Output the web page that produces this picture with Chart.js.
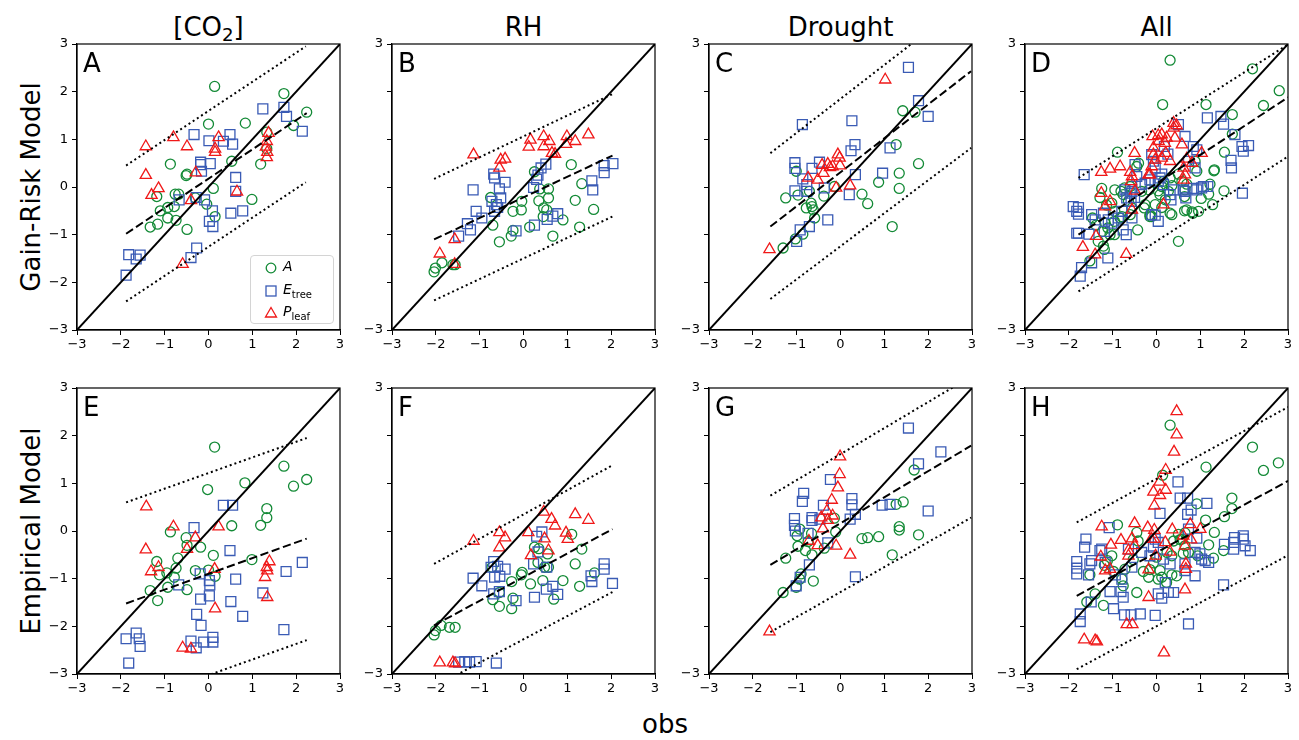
<!DOCTYPE html>
<html>
<head>
<meta charset="utf-8">
<script src="https://cdn.jsdelivr.net/npm/chart.js@4.4.1/dist/chart.umd.min.js"></script>
<style>
  body { margin: 0; background: #fff; width: 1299px; height: 740px; position: relative; overflow: hidden; font-family: 'DejaVu Sans', sans-serif; }
  canvas { position: absolute; }
  .lbl { position: absolute; color: #000; white-space: nowrap; font-size: 26px; line-height: 26px; }
  .sub { font-size: 70%; position: relative; top: 0.28em; }
  #legend { position: absolute; left: 250px; top: 255px; width: 82px; height: 67px; border: 1px solid #d4d4d4; border-radius: 4px; background: rgba(255,255,255,0.85); z-index: 5; font-size: 14px; }
  #legend .row { position: absolute; left: 0; height: 20px; }
  #legend svg { position: absolute; left: 12px; top: 3px; }
  #legend .txt { position: absolute; left: 32px; top: 1px; font-style: italic; line-height: 16px; }
  #legend .txt span { font-style: normal; font-size: 10px; position: relative; top: 4px; }
</style>
</head>
<body>
<div id="legend">
  <div class="row" style="top:1px"><svg width="16" height="16"><circle cx="8" cy="8" r="4.8" fill="none" stroke="#138a36" stroke-width="1.3"/></svg><div class="txt">A</div></div>
  <div class="row" style="top:24px"><svg width="16" height="16"><rect x="3" y="3" width="10" height="10" fill="none" stroke="#3a5bb5" stroke-width="1.3"/></svg><div class="txt">E<span>tree</span></div></div>
  <div class="row" style="top:46px"><svg width="16" height="16"><polygon points="8,2.5 13.5,12 2.5,12" fill="none" stroke="#f01818" stroke-width="1.3"/></svg><div class="txt">P<span>leaf</span></div></div>
</div>
<script>
// column / row titles and panel letters
const colTitles = ['[CO<span class="sub">2</span>]', 'RH', 'Drought', 'All'];
const rowTitles = ['Gain-Risk Model', 'Empirical Model'];
const letters = ['A', 'B', 'C', 'D', 'E', 'F', 'G', 'H'];
const tickValues = [-3, -2, -1, 0, 1, 2, 3];

// A: [CO2], gain-risk
const A_circ = [[0.14,2.11],[1.72,1.96],[2.24,1.57],[1.94,1.29],[1.33,1.15],[1.33,0.80],[0.84,1.34],[0.0,1.32],[0.53,0.54],[1.19,0.48],[-0.87,0.48],[-0.49,0.27],[-0.51,0.24],[-1.18,-0.20],[-0.76,-0.15],[-0.68,-0.15],[0.11,-0.03],[0.99,-0.26],[-1.10,-0.50],[-0.93,-0.43],[-0.78,-0.41],[-0.04,-0.36],[0.15,-0.62],[-0.93,-0.65],[-0.74,-0.70],[-1.33,-0.84],[-1.16,-0.78],[-0.49,-0.89],[-0.30,-0.23]];
const A_sq = [[1.24,1.64],[1.72,1.67],[1.78,1.48],[2.14,1.17],[-0.33,1.10],[0.01,0.97],[0.34,0.96],[0.49,1.10],[0.55,0.90],[-0.18,0.52],[-0.18,0.47],[0.04,0.49],[-0.16,0.33],[0.62,0.20],[0.62,-0.09],[-0.67,-0.27],[-0.28,-0.22],[-0.09,-0.27],[0.09,-0.50],[0.51,-0.55],[0.78,-0.50],[0.02,-0.72],[0.10,-0.83],[-0.27,-1.28],[-0.40,-1.48],[-1.82,-1.42],[-1.65,-1.51],[-1.56,-1.43],[-1.88,-1.85]];
const A_tri = [[-1.43,0.85],[-0.80,1.04],[-0.49,0.85],[0.23,1.04],[0.15,0.80],[0.15,0.73],[-1.43,0.25],[-0.29,0.30],[-1.14,-0.03],[-1.30,-0.17],[-0.40,-0.28],[0.65,-0.10],[1.37,1.13],[1.33,0.96],[1.31,0.84],[1.34,0.73],[1.33,0.62],[-0.59,-1.62]];
const A_fit = [[-1.88,-0.98],[2.24,1.55]];
const A_hi = [[-1.88,0.45],[2.22,2.95]];
const A_lo = [[-1.88,-2.40],[2.22,0.10]];

// B: RH, gain-risk
const B_circ = [[-2.04,-1.78],[-2.01,-1.70],[-1.86,-1.59],[-1.61,-1.63],[-1.56,-1.63],[-0.55,-1.15],[-0.70,-0.80],[-0.28,-1.03],[-0.24,-0.91],[-0.75,-0.22],[-0.24,-0.51],[-0.05,-0.48],[-0.04,-0.30],[0.14,-0.84],[0.35,-0.29],[0.25,0.32],[0.37,-0.04],[0.57,-0.04],[0.57,-0.23],[0.46,-0.44],[0.53,-0.48],[0.45,-0.62],[0.67,-1.03],[0.90,-0.69],[1.09,0.47],[1.33,0.07],[1.18,-0.28],[1.28,-0.84],[1.60,-0.47]];
const B_sq = [[-1.15,-0.06],[-0.68,0.27],[-0.66,0.19],[-0.42,0.10],[-0.55,-0.04],[-0.52,-0.23],[-0.72,-0.30],[-0.62,-0.37],[-0.59,-0.43],[-0.66,-0.51],[-1.08,-0.51],[-0.95,-0.65],[-1.28,-0.77],[-1.21,-0.90],[-1.48,-1.03],[-0.17,-0.92],[0.25,-0.80],[0.33,0.25],[0.30,0.16],[0.23,-0.01],[0.40,0.40],[0.51,0.48],[0.54,-0.68],[0.67,-0.61],[0.78,-0.56],[1.56,0.13],[1.58,-0.06],[1.84,0.45],[1.84,0.30],[2.04,0.49]];
const B_tri = [[-1.91,-1.40],[-1.57,-1.10],[-1.57,-1.62],[-1.14,0.68],[-0.55,0.40],[-0.52,0.57],[-0.42,0.59],[0.16,0.99],[0.12,0.84],[0.46,1.06],[0.46,0.85],[0.59,0.96],[0.65,0.71],[0.72,0.69],[0.99,1.06],[0.97,0.90],[1.18,0.96],[1.48,1.10]];
const B_fit = [[-2.04,-1.10],[2.03,0.66]];
const B_hi = [[-2.04,0.17],[2.03,1.95]];
const B_lo = [[-2.04,-2.38],[2.03,-0.62]];

// C: drought, gain-risk
const C_circ = [[1.42,1.60],[1.70,1.57],[1.27,0.89],[1.78,0.49],[0.87,0.10],[1.34,0.29],[1.34,-0.03],[1.18,-0.83],[0.49,-0.15],[0.62,-0.35],[-0.14,0.01],[-1.01,0.33],[-1.25,-0.23],[-0.97,-0.17],[-0.67,-0.34],[-0.65,-0.41],[-0.78,-0.44],[-0.62,-0.48],[-0.59,-0.65],[-0.38,-0.19],[-0.86,-0.99],[-1.03,-1.09],[-1.31,-1.28],[-0.71,-0.09]];
const C_sq = [[1.55,2.51],[1.78,1.81],[2.00,1.48],[-0.87,1.31],[0.26,1.39],[0.33,0.89],[0.24,0.76],[1.13,0.82],[0.96,0.29],[0.34,0.26],[0.20,-0.16],[-1.04,0.51],[-1.04,0.39],[-0.48,0.52],[-0.65,0.39],[-0.86,0.17],[-0.77,0.05],[-0.77,-0.09],[-1.04,-0.08],[-0.37,-0.02],[-0.29,-0.69],[-0.71,-0.83],[-0.92,-0.90],[-1.00,-1.14]];
const C_tri = [[1.02,2.25],[-1.62,-1.31],[-0.74,0.19],[-0.52,0.15],[-0.42,0.46],[-0.39,0.29],[-0.29,0.48],[-0.24,0.41],[-0.18,0.43],[-0.06,0.68],[-0.02,0.61],[-0.01,0.45],[-0.10,-0.02],[0.22,0.03]];
const C_fit = [[-1.60,-0.83],[2.98,2.43]];
const C_hi = [[-1.60,0.71],[2.98,3.97]];
const C_lo = [[-1.60,-2.35],[2.98,0.82]];

// D: all, gain-risk
const D_circ = [[0.31,2.66],[2.19,2.48],[2.80,2.02],[2.44,1.71],[0.14,1.73],[1.13,1.73],[1.73,1.52],[1.73,1.11],[1.55,0.73],[-0.89,0.73],[1.32,0.36],[1.54,-0.08],[1.28,-0.37],[1.02,-0.24],[1.19,-0.15],[0.81,-0.52],[0.64,-0.50],[0.50,-1.14],[0.31,-0.55],[0.12,-0.43],[-0.11,-0.62],[-0.15,-0.62],[-0.43,-0.90],[-0.56,-0.44],[-0.73,-0.02],[-0.60,0.01],[-0.41,0.50],[-0.45,0.43],[-1.25,-0.03],[-1.29,-0.22],[-1.14,-0.38],[-0.95,-0.51],[-0.79,-0.62],[-0.96,-0.72],[-1.11,-0.86],[-0.96,-1.00],[-1.23,-0.93],[-1.33,-1.14],[-1.19,-1.31],[-1.52,-1.55],[-1.46,-0.65],[-1.38,-0.80],[0.04,-0.08],[0.12,0.01],[0.27,-0.09],[0.35,0.03],[0.50,0.27],[0.58,0.12],[0.69,0.06],[0.64,-0.20],[0.88,0.54],[0.92,0.33],[1.22,0.06],[-0.28,-0.44],[-0.03,-0.37],[-0.17,-0.06],[-0.95,-0.06],[-0.81,-0.09],[-1.02,-0.34],[-0.64,-0.30],[-0.34,-0.09],[-0.76,-0.16],[-0.26,-0.37],[0.31,0.19],[0.65,-0.06],[1.31,0.34],[0.69,-0.48],[0.83,-0.55],[-0.60,-0.58],[-0.83,-0.65],[-1.17,-0.76],[-1.06,-1.00],[-1.21,-1.24],[0.08,-0.16],[0.20,-0.27],[0.16,0.12],[-0.15,-0.58],[0.35,-0.58],[0.96,-0.51]];
const D_sq = [[-1.65,0.26],[1.16,1.45],[1.47,1.48],[1.53,1.32],[1.79,1.10],[1.98,0.75],[2.10,0.87],[1.95,0.85],[1.70,0.56],[1.71,0.40],[1.96,-0.13],[0.50,1.31],[0.65,1.06],[0.84,0.85],[0.92,0.78],[0.88,0.40],[1.03,-0.02],[0.92,-0.06],[0.84,-0.03],[1.17,0.01],[0.65,-0.09],[0.67,-0.23],[0.31,-0.16],[0.33,-0.27],[0.18,0.85],[0.26,0.69],[0.16,0.05],[0.04,0.12],[-0.11,0.68],[-0.07,0.54],[0.12,0.27],[0.73,0.54],[-0.34,0.05],[-0.26,0.08],[-0.15,0.15],[-0.49,0.47],[-0.56,-0.09],[-0.50,-0.22],[-0.68,-0.23],[-0.58,-0.30],[-0.79,-0.51],[-0.56,-0.65],[-0.69,-1.00],[-1.11,-1.49],[-1.48,-1.59],[-1.71,-1.69],[-1.74,-1.87],[-1.78,-0.43],[-1.78,-0.57],[-1.78,-0.97],[-1.54,-0.99],[-1.48,-0.58],[-1.40,-0.69],[-1.21,-0.55],[-1.10,-0.69],[-1.02,-0.76],[-0.87,-0.65],[-0.03,-0.59],[0.04,-0.72],[-0.11,-0.58],[-1.19,-0.93],[-1.90,-0.41],[-1.82,-0.51],[-1.82,-0.97],[-0.72,-0.06],[-0.60,-0.13],[-0.45,0.22],[-0.03,0.40],[0.08,0.19],[0.39,-0.06],[0.61,-0.06],[1.07,0.01],[-0.76,-0.90]];
const D_tri = [[0.39,1.34],[0.46,1.29],[-0.09,1.06],[0.04,1.08],[0.12,1.10],[0.23,1.03],[0.05,0.96],[0.19,0.92],[0.42,1.03],[0.58,0.89],[-0.50,0.71],[-0.07,0.68],[-0.03,0.57],[0.12,0.61],[0.21,0.71],[0.31,0.54],[-0.11,0.43],[-0.15,0.26],[1.03,0.71],[0.81,0.50],[0.69,0.59],[0.62,0.40],[0.65,0.26],[0.62,0.15],[-1.26,0.31],[-1.06,0.38],[-0.83,0.43],[-0.60,0.31],[-0.56,0.22],[-0.58,0.12],[-0.49,-0.08],[-1.26,-0.13],[-1.17,-0.41],[-1.06,-0.30],[-0.56,-0.48],[0.16,-0.37],[-1.38,-1.03],[-1.68,-1.26],[-1.40,-1.42],[-0.69,-1.41],[0.39,1.24],[-0.07,0.82],[-0.18,0.26]];
const D_fit = [[-1.78,-1.00],[3.0,1.88]];
const D_hi = [[-1.78,0.19],[3.0,2.99]];
const D_lo = [[-1.78,-2.19],[3.0,0.64]];

// E: [CO2], empirical
const E_circ = [[0.14,1.76],[1.72,1.36],[2.24,1.08],[1.94,0.94],[0.83,1.01],[-0.02,0.87],[1.33,0.47],[1.33,0.28],[1.19,0.12],[0.53,0.11],[-0.87,-0.02],[-0.51,-0.14],[-0.49,-0.30],[-0.18,-0.34],[0.11,-0.51],[-0.70,-0.57],[0.99,-0.60],[-1.18,-0.64],[-1.12,-0.92],[-0.95,-0.88],[-0.74,-0.78],[-0.30,-0.83],[0.0,-0.82],[0.15,-0.95],[-0.78,-0.97],[-0.93,-1.18],[-0.49,-1.23],[-1.33,-1.25],[-1.16,-1.46]];
const E_sq = [[0.34,0.54],[0.55,0.54],[-0.33,0.07],[0.49,-0.41],[0.02,-1.04],[0.03,-1.13],[-0.19,-0.90],[-0.68,-1.13],[0.62,-1.01],[1.24,-1.30],[1.77,-0.85],[2.14,-0.66],[-0.18,-1.43],[0.02,-1.36],[0.51,-1.48],[-0.27,-1.75],[0.78,-1.79],[-0.17,-1.98],[1.72,-2.07],[0.10,-2.23],[0.10,-2.33],[-0.11,-2.33],[-0.40,-2.31],[-0.28,-2.45],[-1.88,-2.26],[-1.65,-2.14],[-1.58,-2.26],[-1.56,-2.42],[-1.82,-2.77]];
const E_tri = [[-1.42,0.51],[-0.80,0.09],[0.23,0.09],[-0.30,-0.14],[-0.49,-0.38],[-1.43,-0.39],[-1.14,-0.76],[-1.31,-0.85],[0.14,-0.80],[1.39,-0.64],[1.33,-0.76],[1.34,-0.83],[1.29,-0.97],[1.34,-1.39],[0.15,-1.63],[-0.59,-2.45],[-0.40,-2.47]];
const E_fit = [[-1.88,-1.52],[2.24,-0.16]];
const E_hi = [[-1.88,0.60],[2.24,1.95]];
const E_lo = [[-1.88,-3.64],[2.24,-2.29]];

// F: RH, empirical
const F_circ = [[-2.04,-2.18],[-2.01,-2.09],[-1.88,-1.98],[-1.69,-2.02],[-1.56,-2.02],[-0.55,-1.58],[-0.27,-1.63],[-0.70,-1.44],[-0.24,-1.41],[-0.55,-1.29],[-0.27,-1.06],[-0.05,-0.92],[-0.03,-0.87],[0.16,-1.11],[0.44,-1.04],[0.69,-1.43],[0.90,-1.04],[1.28,-1.16],[1.18,-0.69],[1.62,-0.88],[1.33,-0.38],[1.10,-0.07],[0.25,-0.34],[0.35,-0.37],[0.33,-0.66],[0.55,-0.48],[0.48,-0.76],[0.57,-0.76],[-0.72,-0.76]];
const F_sq = [[0.42,-0.02],[0.30,-0.11],[0.33,-0.44],[0.23,-0.69],[0.53,-0.76],[-0.68,-0.64],[-0.59,-0.74],[-0.74,-0.76],[-0.42,-0.80],[-0.66,-0.97],[-0.54,-0.95],[-1.15,-0.99],[-0.95,-1.15],[-0.68,-1.32],[-0.55,-1.27],[-0.17,-1.46],[0.25,-1.39],[0.52,-1.22],[0.67,-1.16],[0.78,-1.33],[1.54,-0.94],[1.56,-1.06],[1.84,-0.69],[1.84,-0.80],[2.03,-1.10],[-1.48,-2.75],[-1.34,-2.74],[-1.23,-2.75],[-1.08,-2.74],[-0.62,-2.77]];
const F_tri = [[-1.91,-2.76],[-1.61,-2.76],[-1.56,-2.78],[-1.14,-0.21],[-0.55,-0.03],[-0.42,-0.14],[-0.55,-0.35],[0.11,-0.03],[0.17,-0.51],[0.46,0.40],[0.64,0.25],[0.72,0.11],[0.48,-0.16],[0.57,-0.41],[0.97,-0.04],[1.01,-0.17],[1.18,0.35],[1.48,0.23]];
const F_fit = [[-2.04,-1.98],[2.03,0.04]];
const F_hi = [[-2.04,-0.69],[2.03,1.38]];
const F_lo = [[-2.04,-3.27],[2.03,-1.28]];

// G: drought, empirical
const G_circ = [[1.68,1.28],[1.43,0.61],[1.27,0.56],[1.34,0.09],[1.34,0.02],[1.78,-0.08],[0.87,-0.12],[0.62,-0.14],[0.49,-0.16],[1.18,-0.50],[-0.14,0.27],[-0.11,-0.02],[-0.93,0.04],[-0.99,-0.10],[-0.66,-0.05],[-0.74,-0.22],[-0.97,-0.32],[-0.80,-0.41],[-0.65,-0.50],[-0.37,-0.36],[-1.25,-0.57],[-0.90,-0.90],[-0.93,-1.01],[-0.62,-1.05],[-1.31,-1.29],[-1.01,-1.18]];
const G_sq = [[1.55,2.16],[2.29,1.66],[1.78,1.41],[-0.23,1.08],[-0.84,0.79],[-0.87,0.62],[-0.39,0.54],[0.26,0.68],[0.26,0.55],[0.95,0.54],[1.13,0.56],[2.00,0.42],[0.34,0.35],[0.22,0.25],[-1.05,0.26],[-1.05,0.12],[-1.03,0.00],[-0.65,0.28],[-0.65,0.22],[-0.47,0.25],[-0.74,-0.05],[-0.29,-0.25],[-0.71,-0.71],[-0.92,-0.97],[-1.01,-1.15],[0.34,-0.96]];
const G_tri = [[-0.01,1.56],[-0.02,1.19],[-0.06,0.91],[-0.20,0.65],[-0.31,0.42],[-0.29,0.23],[-0.44,0.28],[-0.40,0.05],[-0.18,0.32],[-0.72,-0.21],[-0.52,-0.30],[-0.10,-0.31],[0.22,-0.50],[-1.62,-2.11]];
const G_fit = [[-1.60,-0.71],[2.98,1.79]];
const G_hi = [[-1.60,0.74],[2.98,3.24]];
const G_lo = [[-1.60,-2.12],[2.98,0.28]];

// H: all, empirical
const H_circ = [[0.31,2.22],[2.19,1.76],[2.78,1.43],[2.44,1.27],[1.13,1.34],[0.14,1.17],[1.72,0.69],[1.72,0.47],[0.92,0.57],[1.55,0.30],[1.12,0.23],[1.32,-0.03],[1.19,-0.29],[1.30,-0.57],[1.53,-0.41],[0.94,-0.52],[-0.89,0.13],[-0.45,-0.03],[-0.42,-0.21],[-1.02,-0.52],[-1.52,-0.92],[-1.40,-1.32],[-1.59,-1.49],[-1.21,-1.56],[-1.19,-0.72],[-0.98,-0.85],[-0.79,-1.01],[-0.72,-0.80],[-0.45,-1.29],[-0.30,-0.85],[-0.18,-0.97],[0.08,-0.83],[0.12,-0.97],[0.35,-0.92],[0.50,-0.07],[0.58,-0.17],[0.65,-0.31],[0.73,-0.45],[0.35,-0.52],[0.24,-0.45],[0.0,-0.55],[-0.76,-1.15],[-0.15,-0.81],[0.04,-1.01],[0.23,-1.08],[0.46,-0.94],[0.61,-0.47],[0.39,-0.21],[0.54,-0.18],[0.65,-0.04],[-0.07,-0.67],[-0.53,-0.60],[-1.12,-0.62]];
const H_sq = [[0.49,1.03],[0.54,0.69],[0.71,0.69],[1.15,0.58],[0.79,0.44],[0.71,0.35],[0.08,0.37],[-1.08,0.07],[-1.61,-0.17],[-1.64,-0.34],[-1.82,-0.64],[-1.82,-0.78],[-1.82,-0.90],[-1.48,-0.62],[-1.52,-0.69],[-1.25,-0.38],[-1.55,-0.92],[-0.94,-0.92],[-0.79,-1.01],[-1.06,-1.27],[-0.81,-1.27],[-0.76,-1.39],[-1.49,-1.49],[-1.74,-1.74],[-1.74,-1.90],[-0.98,-1.63],[-0.73,-1.76],[-0.58,-1.76],[-0.37,-1.74],[-0.03,-1.77],[0.20,-1.08],[0.04,-1.32],[0.12,-1.41],[0.27,-1.29],[0.39,-1.29],[0.73,-1.95],[0.88,-0.94],[0.65,-0.69],[0.65,-0.83],[0.92,-0.15],[0.73,0.04],[-0.03,-0.17],[0.04,-0.24],[-0.07,-0.34],[-0.15,-0.52],[0.16,-0.59],[0.31,-0.69],[-0.34,-0.45],[-0.64,-0.38],[-0.56,-0.76],[1.53,-1.13],[1.78,-0.14],[1.76,-0.24],[1.76,-0.38],[1.55,-0.28],[1.98,-0.10],[1.98,-0.17],[2.02,-0.31],[2.14,-0.41],[1.03,-0.59],[1.11,-0.62],[1.19,-0.66],[0.88,-0.45],[0.99,-0.48],[-1.29,-0.41],[-1.17,-0.66]];
const H_tri = [[0.46,2.51],[0.46,2.02],[0.40,1.66],[0.21,1.28],[0.07,1.03],[-0.07,0.82],[0.08,0.75],[0.21,0.86],[-0.05,0.53],[-1.25,0.09],[-0.50,0.16],[-0.20,0.07],[-0.05,0.02],[-0.81,-0.19],[-1.04,-0.29],[-0.56,-0.16],[-0.50,-0.30],[-0.64,-0.41],[-0.64,-0.52],[-0.12,-0.17],[-0.05,-0.17],[0.20,-0.24],[0.31,-0.44],[0.36,0.03],[0.61,-0.10],[0.65,-0.31],[0.77,0.14],[0.79,-0.18],[1.00,0.04],[-0.02,-0.52],[-1.27,-0.54],[-1.17,-0.83],[-1.06,-0.80],[-0.18,-0.81],[0.67,-0.69],[0.67,-0.80],[0.65,-1.23],[-0.18,-1.39],[-0.68,-1.96],[-0.55,-1.96],[-1.65,-2.28],[-1.40,-2.30],[-1.36,-2.32],[0.17,-2.55]];
const H_fit = [[-1.82,-1.36],[3.0,1.05]];
const H_hi = [[-1.82,0.18],[3.0,2.60]];
const H_lo = [[-1.82,-2.90],[3.0,-0.51]];

const oneToOne = [[-3,-3],[3,3]];

const panels = [
  [A_circ, A_sq, A_tri, A_fit, A_hi, A_lo],
  [B_circ, B_sq, B_tri, B_fit, B_hi, B_lo],
  [C_circ, C_sq, C_tri, C_fit, C_hi, C_lo],
  [D_circ, D_sq, D_tri, D_fit, D_hi, D_lo],
  [E_circ, E_sq, E_tri, E_fit, E_hi, E_lo],
  [F_circ, F_sq, F_tri, F_fit, F_hi, F_lo],
  [G_circ, G_sq, G_tri, G_fit, G_hi, G_lo],
  [H_circ, H_sq, H_tri, H_fit, H_hi, H_lo]
];

// layout of the grid (pixels)
const colLeft = [77, 392, 709, 1025];
const rowTop = [44, 388];
const plotW = 263, plotH = 286;
const padL = 50, padT = 12, padR = 12, padB = 30;

const green = '#138a36', blue = '#3a5bb5', red = '#f01818';
const pts = arr => arr.map(p => ({ x: p[0], y: p[1] }));
const minus = v => v < 0 ? '\u2212' + Math.abs(v) : String(v);

// titles as html text
colTitles.forEach((t, i) => {
  const d = document.createElement('div');
  d.className = 'lbl';
  d.innerHTML = t;
  d.style.left = (colLeft[i] + plotW / 2) + 'px';
  d.style.top = '14px';
  d.style.transform = 'translateX(-50%)';
  document.body.appendChild(d);
});
rowTitles.forEach((t, i) => {
  const d = document.createElement('div');
  d.className = 'lbl';
  d.textContent = t;
  d.style.left = '31px';
  d.style.top = (rowTop[i] + plotH / 2) + 'px';
  d.style.transform = 'translate(-50%,-50%) rotate(-90deg)';
  document.body.appendChild(d);
});
const xl = document.createElement('div');
xl.className = 'lbl';
xl.textContent = 'obs';
xl.style.left = '665px';
xl.style.top = '711px';
xl.style.transform = 'translateX(-50%)';
document.body.appendChild(xl);

// panel letter + box frame
const framePlugin = {
  id: 'frame',
  afterDraw(chart, args, opts) {
    const a = chart.chartArea, ctx = chart.ctx;
    ctx.save();
    ctx.strokeStyle = '#000';
    ctx.lineWidth = 1.2;
    ctx.strokeRect(a.left, a.top, a.right - a.left, a.bottom - a.top);
    ctx.fillStyle = '#000';
    ctx.font = '26px "DejaVu Sans"';
    ctx.textBaseline = 'alphabetic';
    ctx.fillText(opts.letter, a.left + 6, a.top + 28);
    ctx.restore();
  }
};

panels.forEach((p, k) => {
  const col = k % 4, row = Math.floor(k / 4);
  const cv = document.createElement('canvas');
  cv.width = plotW + padL + padR;
  cv.height = plotH + padT + padB;
  cv.style.left = (colLeft[col] - padL) + 'px';
  cv.style.top = (rowTop[row] - padT) + 'px';
  document.body.appendChild(cv);

  const lineSet = (d, dash, w) => ({
    type: 'line', data: pts(d), borderColor: '#000', borderWidth: w,
    borderDash: dash, pointRadius: 0, fill: false, tension: 0, borderCapStyle: 'butt'
  });
  const markSet = (d, style, color, r) => ({
    type: 'scatter', data: pts(d), pointStyle: style, pointRadius: r,
    pointBorderColor: color, pointBackgroundColor: 'rgba(0,0,0,0)', pointBorderWidth: 1.3,
    pointHoverRadius: r
  });

  new Chart(cv, {
    type: 'scatter',
    data: {
      datasets: [
        lineSet(oneToOne, [], 1.9),
        lineSet(p[3], [8.3, 3.6], 2),
        lineSet(p[4], [2, 3], 2),
        lineSet(p[5], [2, 3], 2),
        markSet(p[2], 'triangle', red, 6.5),
        markSet(p[1], 'rect', blue, 7),
        markSet(p[0], 'circle', green, 5)
      ]
    },
    options: {
      responsive: false,
      animation: false,
      devicePixelRatio: 1,
      layout: { padding: { top: padT, right: padR, left: 0, bottom: 0 } },
      plugins: { legend: { display: false }, tooltip: { enabled: false }, frame: { letter: letters[k] } },
      scales: {
        x: {
          type: 'linear', min: -3, max: 3,
          afterFit: s => { s.height = padB; },
          afterBuildTicks: s => { s.ticks = tickValues.map(v => ({ value: v })); },
          ticks: { callback: v => minus(v), font: { family: 'DejaVu Sans', size: 13 }, color: '#000', padding: 2, autoSkip: false, maxRotation: 0 },
          grid: { drawOnChartArea: false, drawTicks: true, tickLength: 5, color: '#000' },
          border: { display: true, color: '#000', width: 1.2 }
        },
        y: {
          type: 'linear', min: -3, max: 3,
          afterFit: s => { s.width = padL; },
          afterBuildTicks: s => { s.ticks = tickValues.map(v => ({ value: v })); },
          ticks: {
            callback: v => (col === 0 || Math.abs(v) === 3) ? minus(v) : '',
            font: { family: 'DejaVu Sans', size: 13 }, color: '#000', padding: 4, autoSkip: false
          },
          grid: { drawOnChartArea: false, drawTicks: true, tickLength: 5, color: '#000' },
          border: { display: true, color: '#000', width: 1.2 }
        }
      }
    },
    plugins: [framePlugin]
  });
});
</script>
</body>
</html>
